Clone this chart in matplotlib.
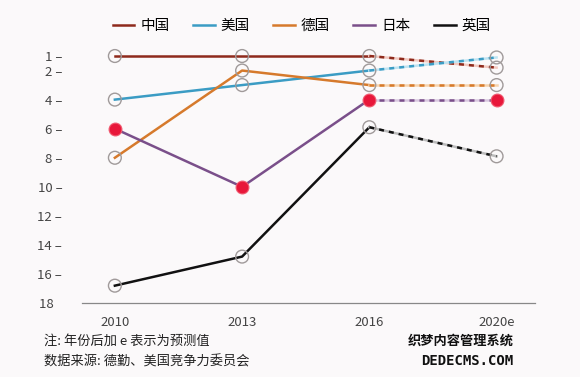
import matplotlib
matplotlib.use("Agg")
import matplotlib.pyplot as plt

plt.rcParams['font.family'] = ['Noto Sans CJK SC', 'DejaVu Sans']

years = ["2010", "2013", "2016", "2020e"]
countries = ["中国", "美国", "德国", "日本", "英国"]
china = [1, 1, 1, 1.8]
usa = [4, 3, 2, 1.1]
germany = [8, 2, 3, 3]
japan = [6, 10, 4, 4]
uk = [16.8, 14.8, 5.9, 7.9]
y_ticks = [1, 2, 4, 6, 8, 10, 12, 14, 16, 18]

series = [china, usa, germany, japan, uk]
colors = ["#8e2a1c", "#3b9cc4", "#d67a2c", "#7a4f8a", "#111111"]
light = ["#f2c9c0", "#bfe4f2", "#f6d3ad", "#d9c8e0", "#bbbbbb"]
bg = "#fbf9fa"

fig = plt.figure(figsize=(5.8, 3.77), dpi=100, facecolor=bg)
ax = fig.add_axes([0.141, 0.196, 0.781, 0.694], facecolor=bg)

x = list(range(len(years)))
for i, (vals, c, lc) in enumerate(zip(series, colors, light)):
    ax.plot(x[:3], vals[:3], color=c, lw=1.8, zorder=2, label=countries[i])
    # forecast segment: light solid under dark dashes
    ax.plot(x[2:], vals[2:], color=lc, lw=1.8, zorder=2)
    ax.plot(x[2:], vals[2:], color=c, lw=1.8, ls=(0, (2, 2)), zorder=2)

# markers
for i, vals in enumerate(series):
    if countries[i] == "日本":
        ax.scatter(x, vals, s=85, color="#e8173a", edgecolor="#f05a70",
                   lw=0.8, zorder=4)
    else:
        ax.scatter(x, vals, s=85, facecolor="none", edgecolor="#a09a9a",
                   lw=1.0, zorder=3)

ax.set_xlim(-0.26, 3.30)
ax.set_ylim(18, 0)
ax.set_xticks(x)
ax.set_xticklabels(years, fontsize=9.5, color="#444444")
ax.set_yticks(y_ticks)
ax.set_yticklabels([f"{t} –" if t != 18 else f"{t}   " for t in y_ticks],
                   fontsize=9.5, color="#444444")
ax.tick_params(axis="y", length=0, pad=14)
ax.tick_params(axis="x", length=0, pad=9)
for s in ["top", "right", "left"]:
    ax.spines[s].set_visible(False)
ax.spines["bottom"].set_color("#888888")
ax.spines["bottom"].set_linewidth(0.9)

fig.legend(loc="upper center", bbox_to_anchor=(0.52, 0.985), ncol=5,
           frameon=False, fontsize=10.5, handlelength=1.5, handletextpad=0.4,
           columnspacing=1.6)

fig.text(0.075, 0.085, "注: 年份后加 e 表示为预测值", fontsize=9.5, color="#222222")
fig.text(0.075, 0.030, "数据来源: 德勤、美国竞争力委员会", fontsize=9.5, color="#222222")

fig.text(0.885, 0.085, "织梦内容管理系统", fontsize=9.5, fontweight="bold",
         color="#111111", ha="right")
fig.text(0.885, 0.032, "DEDECMS.COM", fontsize=10, fontweight="bold",
         color="#111111", ha="right", family="DejaVu Sans Mono")

fig.savefig("out.png", dpi=100, facecolor=bg)
